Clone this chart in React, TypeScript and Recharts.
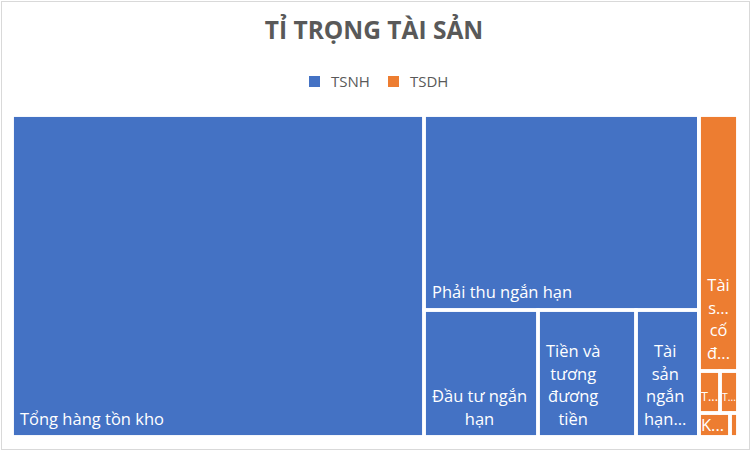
import React from 'react'
import { Treemap } from 'recharts'

// Asset structure (% of total assets)
const groupNames = ['TSNH', 'TSDH']
const tsnhNames = [
  'Tổng hàng tồn kho',
  'Phải thu ngắn hạn',
  'Đầu tư ngắn hạn',
  'Tiền và tương đương tiền',
  'Tài sản ngắn hạn khác',
]
const tsnhValues = [56.69, 22.95, 6.2, 5.32, 3.43]
const tsdhNames = [
  'Tài sản cố định',
  'Tài sản dở dang dài hạn',
  'Tài sản dài hạn khác',
  'Khoản phải thu dài hạn',
  'Đầu tư tài chính dài hạn',
]
const tsdhValues = [4.3, 0.378, 0.328, 0.319, 0.079]

const groupColors: Record<string, string> = {
  TSNH: '#4472C4',
  TSDH: '#ED7D31',
}

const treeData = [
  { name: groupNames[0], children: tsnhNames.map((n, i) => ({ name: n, size: tsnhValues[i] })) },
  { name: groupNames[1], children: tsdhNames.map((n, i) => ({ name: n, size: tsdhValues[i] })) },
]

const FONT = '"Open Sans", sans-serif'
const LABEL_SIZE = 16.5
const LINE_H = 22.5

let measureCtx: CanvasRenderingContext2D | null = null
function textWidth(s: string) {
  if (!measureCtx) measureCtx = document.createElement('canvas').getContext('2d')
  measureCtx!.font = `${LABEL_SIZE}px "Open Sans"`
  return measureCtx!.measureText(s).width
}

function fit(s: string, avail: number) {
  if (textWidth(s) <= avail) return s
  for (let k = s.length - 1; k >= 1; k--) {
    const t = s.slice(0, k).trimEnd() + '...'
    if (textWidth(t) <= avail) return t
  }
  return s.slice(0, 1) + '...'
}

const padFor = (w: number) => (w > 36 ? 8 : 2)

function wrapLabel(name: string, w: number, h: number) {
  if (w < 12) return []
  const avail = w - padFor(w) * 2
  const maxLines = Math.max(1, Math.floor((h - 16) / LINE_H))
  const words = name.split(' ')
  let lines: string[] = []
  let cur = ''
  words.forEach((word) => {
    const cand = cur ? cur + ' ' + word : word
    if (textWidth(cand) <= avail || !cur) cur = cand
    else {
      lines.push(cur)
      cur = word
    }
  })
  if (cur) lines.push(cur)
  if (lines.length > maxLines) {
    lines = lines.slice(0, maxLines)
    lines[maxLines - 1] = lines[maxLines - 1] + '...'
  }
  return lines.map((l) => fit(l, avail))
}

function TreemapCell(props: any) {
  const { x, y, width, height, depth, name } = props
  if (depth === 1) {
    return <rect x={x} y={y} width={width} height={height} fill={groupColors[name]} stroke="#fff" strokeWidth={3.5} />
  }
  if (depth !== 2) return null

  const lines = wrapLabel(name, width, height)
  const pad = padFor(width)
  const avail = width - pad * 2
  const rawW = Math.max(0, ...lines.map(textWidth))
  // shrink the minimal "X..." labels of very narrow tiles so they stay inside
  const scale = rawW > avail ? avail / rawW : 1
  const fontSize = LABEL_SIZE * scale
  const blockW = rawW * scale
  const cx = x + pad + blockW / 2
  const lastBase = height < 35 ? y + height / 2 + 6 : y + height - 12.5

  return (
    <g>
      <rect x={x} y={y} width={width} height={height} fill="none" stroke="#fff" strokeWidth={3.5} />
      {lines.map((l, i) => (
        <text
          key={i}
          x={cx}
          y={lastBase - (lines.length - 1 - i) * LINE_H}
          textAnchor="middle"
          fill="#fff"
          fontSize={fontSize}
          fontFamily={FONT}
        >
          {l}
        </text>
      ))}
    </g>
  )
}

export default function App() {
  return (
    <div style={{ position: 'absolute', left: 0, top: 0, width: 751, height: 451, background: '#fff' }}>
      <div
        style={{
          position: 'absolute',
          left: 1,
          top: 1,
          width: 747,
          height: 447,
          border: '1px solid #d9d9d9',
        }}
      />
      <svg width={751} height={110} style={{ position: 'absolute', left: 0, top: 0 }}>
        <text x={374} y={39} textAnchor="middle" fontFamily={FONT} fontWeight="bold" fontSize={24.5} fill="#595959">
          TỈ TRỌNG TÀI SẢN
        </text>
        {groupNames.map((g, i) => (
          <g key={g}>
            <rect x={309 + i * 79} y={76} width={11} height={11} fill={groupColors[g]} />
            <text x={331 + i * 79} y={87} fontFamily={FONT} fontSize={15} fill="#595959">
              {g}
            </text>
          </g>
        ))}
      </svg>
      <div style={{ position: 'absolute', left: 12, top: 115 }}>
        <Treemap
          width={726}
          height={322}
          data={treeData}
          dataKey="size"
          nameKey="name"
          aspectRatio={1.35}
          isAnimationActive={false}
          content={<TreemapCell />}
        />
      </div>
    </div>
  )
}
